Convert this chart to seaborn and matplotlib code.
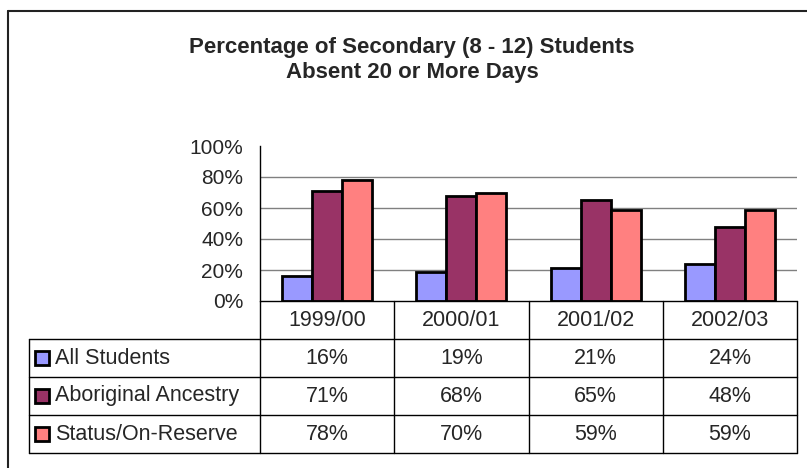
import matplotlib
matplotlib.use('Agg')
import matplotlib.pyplot as plt
import seaborn as sns
import pandas as pd
from matplotlib.lines import Line2D
from matplotlib.patches import Rectangle

# 데이터
years = ['1999/00', '2000/01', '2001/02', '2002/03']
groups = ['All Students', 'Aboriginal Ancestry', 'Status/On-Reserve']
all_students = [16, 19, 21, 24]
aboriginal = [71, 68, 65, 48]
status_reserve = [78, 70, 59, 59]
colors = ['#9999FF', '#993366', '#FF8080']

title = "Percentage of Secondary (8 - 12) Students\nAbsent 20 or More Days"

series = [all_students, aboriginal, status_reserve]
df = pd.DataFrame({
    'year': [y for s in series for y in years],
    'group': [g for g, s in zip(groups, series) for _ in s],
    'pct': [v for s in series for v in s],
})

sns.set_style('white')
plt.rcParams['font.family'] = ['Liberation Sans', 'DejaVu Sans']

W, H = 807, 468


def fx(px):
    return px / W


def fy(py):
    return 1 - py / H


fig = plt.figure(figsize=(W / 100, H / 100), dpi=100)

# 1. 막대 그래프 영역
left, right, top, bottom = 260, 797, 146, 301
ax = fig.add_axes([fx(left), fy(bottom), fx(right) - fx(left), fy(top) - fy(bottom)])
sns.barplot(data=df, x='year', y='pct', hue='group', hue_order=groups, order=years,
            palette=colors, saturation=1, width=0.67, edgecolor='black',
            linewidth=2, legend=False, ax=ax, zorder=3)
ax.set_xlim(-0.5, 3.5)
ax.set_ylim(0, 100)
ax.set_yticks(range(0, 101, 20))
ax.set_yticklabels([f'{t}%' for t in range(0, 101, 20)])
ax.set_xticks([])
ax.set_xlabel('')
ax.set_ylabel('')
for t in range(20, 100, 20):
    ax.axhline(t, color='#808080', lw=1, zorder=1)
for s in ['top', 'right', 'bottom']:
    ax.spines[s].set_visible(False)
ax.spines['left'].set_color('black')
ax.spines['left'].set_linewidth(1)
ax.tick_params(axis='y', direction='inout', length=6, width=1, labelsize=15, pad=9)

# 2. 데이터 테이블
tleft = 29
cat_w = (right - left) / 4
x0 = -0.5 - (left - tleft) / cat_w


def px2x(px):
    return x0 + (px - tleft) / cat_w


tax = fig.add_axes([fx(tleft), fy(453), fx(right) - fx(tleft), fy(bottom) - fy(453)])
tax.set_xlim(x0, 3.5)
tax.set_ylim(4, 0)
tax.axis('off')

lc = dict(color='black', lw=1, clip_on=False)
tax.plot([-0.5, 3.5], [0, 0], **lc)
for r in range(1, 5):
    tax.plot([x0, 3.5], [r, r], **lc)
for c in [-0.5, 0.5, 1.5, 2.5, 3.5]:
    tax.plot([c, c], [0, 4], **lc)
tax.plot([x0, x0], [1, 4], **lc)

for i, y in enumerate(years):
    tax.text(i, 0.5, y, ha='center', va='center', fontsize=15.5)

sw_h = 14 / 38
for r, (g, s, col) in enumerate(zip(groups, series, colors)):
    yc = r + 1.5
    tax.add_patch(Rectangle((px2x(35), yc - sw_h / 2), px2x(49) - px2x(35), sw_h,
                            facecolor=col, edgecolor='black', lw=2, clip_on=False))
    tax.text(px2x(55), yc, g, ha='left', va='center', fontsize=15.5)
    for i, v in enumerate(s):
        tax.text(i, yc, f'{v}%', ha='center', va='center', fontsize=15.5)

# 3. 제목 및 외곽선
fig.text(fx(412), fy(60), title, ha='center', va='center', fontsize=16,
         fontweight='bold', linespacing=1.2)
fig.add_artist(Line2D([fx(7.5), fx(7.5)], [fy(11), 0], color='#222222', lw=1.5))
fig.add_artist(Line2D([fx(7.5), 1], [fy(11), fy(11)], color='#222222', lw=1.5))

fig.savefig('out.png', dpi=100)
